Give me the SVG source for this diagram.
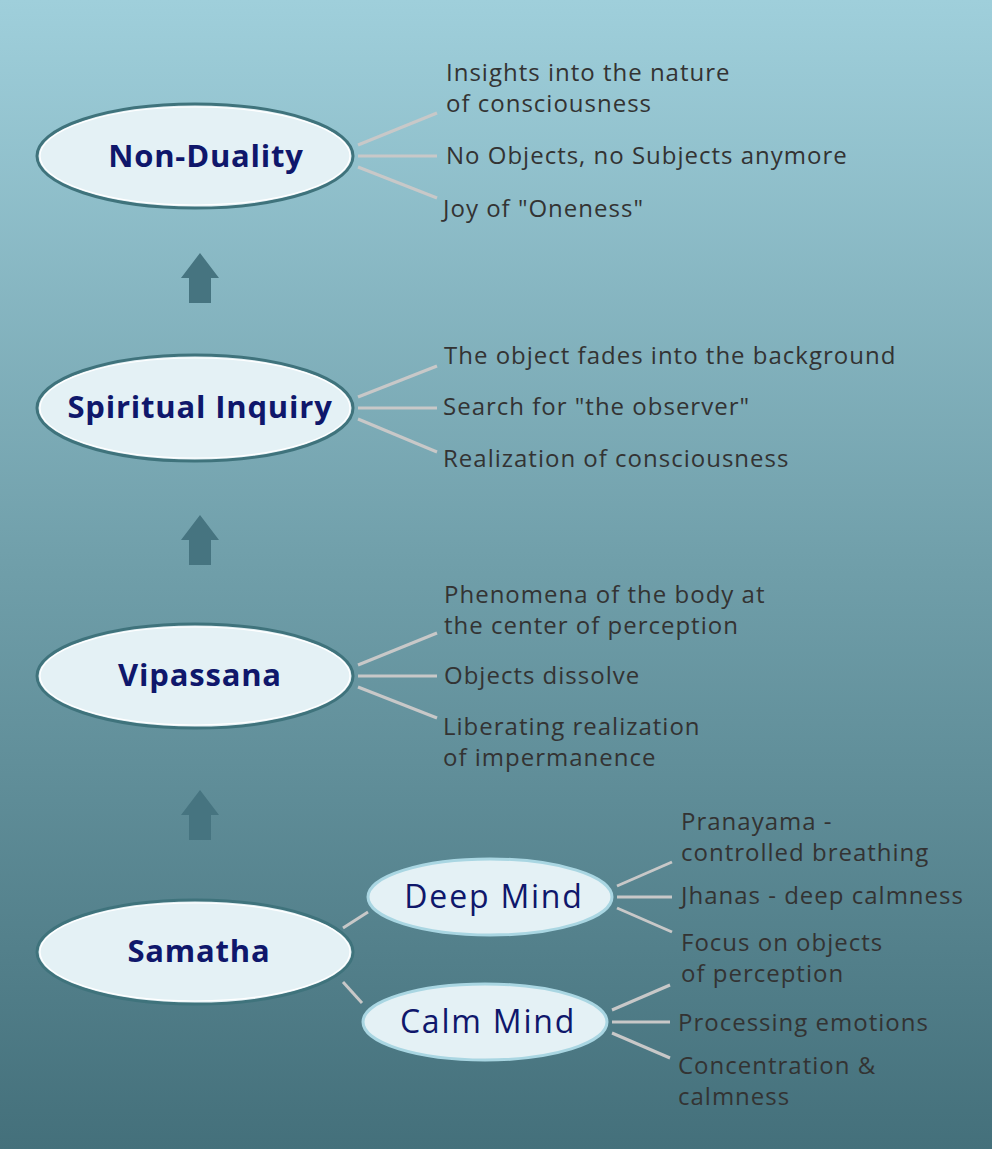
<svg xmlns="http://www.w3.org/2000/svg" width="992" height="1149" viewBox="0 0 992 1149">
<defs>
<linearGradient id="bg" x1="0" y1="0" x2="0" y2="1">
<stop offset="0" stop-color="#9fcfdb"/>
<stop offset="0.5" stop-color="#6f9ea9"/>
<stop offset="1" stop-color="#44707b"/>
</linearGradient>
<path id="arrow" d="M0,0 L19,25 L11,25 L11,50 L-11,50 L-11,25 L-19,25 Z"/>
</defs>
<style>
.ell{fill:#e4f1f5;stroke:#3f737c;stroke-width:3}
.ein{fill:none;stroke:#ffffff;stroke-width:1.2}
.sub{fill:#e4f1f5;stroke:#a9d6e2;stroke-width:3}
.main{font-family:"Open Sans","Liberation Sans",sans-serif;font-weight:bold;font-size:31px;letter-spacing:0.8px;fill:#0f176b;text-anchor:middle}
.sublbl{font-family:"Open Sans","Liberation Sans",sans-serif;font-size:32px;letter-spacing:1.8px;fill:#0f176b;text-anchor:middle}
.t{font-family:"Open Sans","Liberation Sans",sans-serif;font-size:24px;letter-spacing:1px;fill:#333333}
.c{stroke:#c8c8c8;stroke-width:3;fill:none}
.arr{fill:#467480}
</style>
<rect width="992" height="1149" fill="url(#bg)"/>
<g id="connectors">
<line class="c" x1="358" y1="145" x2="437" y2="113"/>
<line class="c" x1="358" y1="156" x2="437" y2="156"/>
<line class="c" x1="358" y1="167" x2="437" y2="198"/>
<line class="c" x1="358" y1="397" x2="437" y2="366"/>
<line class="c" x1="358" y1="408" x2="437" y2="408"/>
<line class="c" x1="358" y1="419" x2="437" y2="452"/>
<line class="c" x1="358" y1="665" x2="437" y2="633"/>
<line class="c" x1="358" y1="676" x2="437" y2="676"/>
<line class="c" x1="358" y1="687" x2="437" y2="718"/>
<line class="c" x1="343" y1="928" x2="368" y2="912"/>
<line class="c" x1="343" y1="982" x2="362" y2="1003"/>
<line class="c" x1="617" y1="886" x2="672" y2="862"/>
<line class="c" x1="617" y1="897" x2="672" y2="897"/>
<line class="c" x1="617" y1="908" x2="672" y2="932"/>
<line class="c" x1="612" y1="1010" x2="670" y2="985"/>
<line class="c" x1="612" y1="1022" x2="670" y2="1022"/>
<line class="c" x1="612" y1="1033" x2="670" y2="1058"/>
<use href="#arrow" class="arr" x="200" y="253"/>
<use href="#arrow" class="arr" x="200" y="515"/>
<use href="#arrow" class="arr" x="200" y="790"/>
</g>
<g id="non-duality">
<ellipse class="ell" cx="195" cy="156" rx="158" ry="52"/>
<ellipse class="ein" cx="195" cy="156" rx="155" ry="49"/>
<text class="main" x="206" y="167">Non-Duality</text>
<text class="t" x="446" y="81">Insights into the nature</text>
<text class="t" x="446" y="112">of consciousness</text>
<text class="t" x="446" y="164">No Objects, no Subjects anymore</text>
<text class="t" x="443" y="217">Joy of "Oneness"</text>
</g>
<g id="spiritual-inquiry">
<ellipse class="ell" cx="195" cy="408" rx="158" ry="53"/>
<ellipse class="ein" cx="195" cy="408" rx="155" ry="50"/>
<text class="main" x="200" y="418">Spiritual Inquiry</text>
<text class="t" x="444" y="364">The object fades into the background</text>
<text class="t" x="443" y="415">Search for "the observer"</text>
<text class="t" x="443" y="467">Realization of consciousness</text>
</g>
<g id="vipassana">
<ellipse class="ell" cx="195" cy="676" rx="158" ry="52"/>
<ellipse class="ein" cx="195" cy="676" rx="155" ry="49"/>
<text class="main" x="200" y="686">Vipassana</text>
<text class="t" x="444" y="603">Phenomena of the body at</text>
<text class="t" x="444" y="634">the center of perception</text>
<text class="t" x="444" y="684">Objects dissolve</text>
<text class="t" x="443" y="735">Liberating realization</text>
<text class="t" x="443" y="766">of impermanence</text>
</g>
<g id="samatha">
<ellipse class="ell" cx="195" cy="952" rx="158" ry="52"/>
<ellipse class="ein" cx="195" cy="952" rx="155" ry="49"/>
<text class="main" x="199" y="962">Samatha</text>
</g>
<g id="deep-mind">
<ellipse class="sub" cx="490" cy="897" rx="122" ry="38"/>
<text class="sublbl" x="494" y="908">Deep Mind</text>
<text class="t" x="681" y="830">Pranayama -</text>
<text class="t" x="681" y="861">controlled breathing</text>
<text class="t" x="681" y="904">Jhanas - deep calmness</text>
<text class="t" x="681" y="951">Focus on objects</text>
<text class="t" x="681" y="982">of perception</text>
</g>
<g id="calm-mind">
<ellipse class="sub" cx="485" cy="1022" rx="122" ry="38"/>
<text class="sublbl" x="488" y="1033">Calm Mind</text>
<text class="t" x="678" y="1031">Processing emotions</text>
<text class="t" x="678" y="1074">Concentration &amp;</text>
<text class="t" x="678" y="1105">calmness</text>
</g>
</svg>
